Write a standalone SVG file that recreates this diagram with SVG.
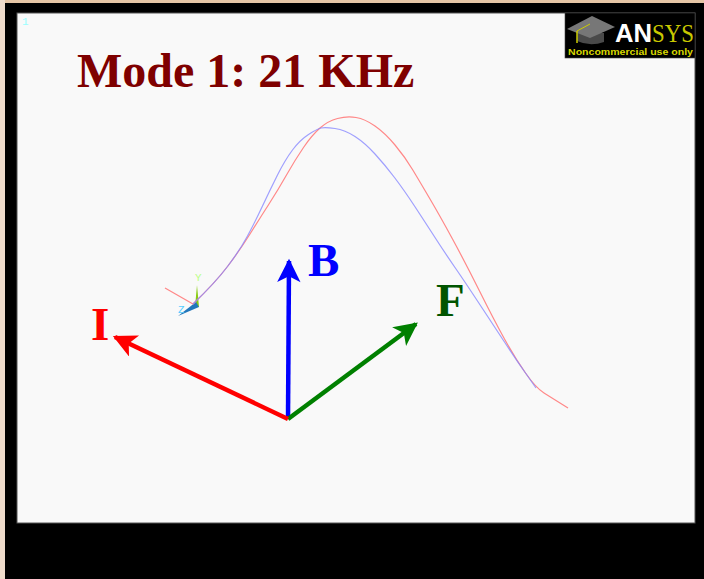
<svg xmlns="http://www.w3.org/2000/svg" width="704" height="579" viewBox="0 0 704 579">
<defs>
<style>
.curve{fill:none;stroke-width:1.2}
.arrow{fill:none;stroke-width:4.5}
.lab{font-family:"Liberation Serif",serif;font-weight:bold;font-size:47px}
.tri{font-family:"Liberation Mono",monospace;font-size:11px}
</style>
<marker id="ar" viewBox="0 0 10 10" refX="9" refY="5" markerWidth="5.6" markerHeight="5.2" orient="auto" markerUnits="strokeWidth"><path d="M0 0L10 5L0 10L2.5 5Z" fill="context-stroke"/></marker>
</defs>
<rect width="704" height="579" fill="#000"/>
<rect width="704" height="3" fill="#e6c6a6"/>
<rect width="5" height="579" fill="#efdccb"/>
<rect x="17" y="13" width="678" height="510" fill="#f9f9f9" stroke="#555" stroke-width="1"/>
<text x="22" y="25" class="tri" fill="#9ff">1</text>
<g id="logo">
<rect x="565" y="13" width="130" height="45" fill="#000" stroke="#444" stroke-width="0.6"/>
<path d="M577 33v8q13 6 27 1v-9z" fill="#4a4a4a"/>
<path d="M567 29L592 16L615 27L590 38Z" fill="#777"/>
<path d="M577 31L590 24" stroke="#cc0" stroke-width="1" fill="none"/>
<path d="M577 31V43" stroke="#cc0" stroke-width="1.5" fill="none"/>
<text x="615" y="42" font-family="Liberation Sans,sans-serif" font-weight="bold" font-size="25" fill="#fff" textLength="37" lengthAdjust="spacingAndGlyphs">AN</text>
<text x="652" y="42" font-family="Liberation Serif,serif" font-size="25" fill="#c8c800" textLength="42" lengthAdjust="spacingAndGlyphs">SYS</text>
<text x="568" y="55" font-family="Liberation Sans,sans-serif" font-weight="bold" font-size="9" fill="#d8d800" textLength="125" lengthAdjust="spacingAndGlyphs">Noncommercial use only</text>
</g>
<g id="title"><text x="77" y="87" font-family="Liberation Serif,serif" font-weight="bold" font-size="48" fill="#7f0000">Mode 1: 21 KHz</text></g>
<g id="triad">
<path d="M195 307L197 285L199 307Z" fill="#8c1"/>
<path d="M178 316L196 302L199 307Z" fill="#27b"/>
<text x="195" y="281" class="tri" fill="#bf8">Y</text>
<text x="178" y="313" class="tri" fill="#5cf">Z</text>
</g>
<g id="connectors">
<path class="curve" stroke="#f88" d="M165 288L193 304Q215 283 227.500 266.500Q240 250 250 234Q260 218 269 204Q278 190 286.500 175Q295 160 303.500 147.500Q312 135 320 128Q328 121 337.500 118.500Q347 116 356 117.500Q365 119 375 126Q385 133 395 145Q405 157 412.500 169.500Q420 182 430 199Q440 216 452.500 239Q465 262 479.500 291Q494 320 504.500 339Q515 358 525.500 373Q536 388 544 393L568 408"/>
<path class="curve" stroke="#88f" stroke-opacity="0.8" d="M193 304Q215 283 227.500 266.500Q240 250 247.500 236Q255 222 262.500 206Q270 190 277.500 175Q285 160 292.500 150Q300 140 308.500 134.500Q317 129 321 128Q325 127 335 128.500Q345 130 355 136.500Q365 143 375 154Q385 165 394.500 177.500Q404 190 414.500 206Q425 222 435 237.500Q445 253 455 267.500Q465 282 477.500 301Q490 320 502.500 339Q515 358 525.500 373L536 388"/>
<line class="arrow" x1="288" y1="419" x2="289" y2="261" stroke="#0000ff" marker-end="url(#ar)"/>
<line class="arrow" x1="288" y1="419" x2="416" y2="324" stroke="#008000" marker-end="url(#ar)"/>
<line class="arrow" x1="288" y1="419" x2="115" y2="337" stroke="#ff0000" marker-end="url(#ar)"/>
</g>
<g id="B"><text x="308" y="276" class="lab" fill="#0000ff">B</text></g>
<g id="F"><text x="436" y="316" class="lab" fill="#005500">F</text></g>
<g id="I"><text x="91" y="340" class="lab" fill="#ff0000">I</text></g>
</svg>
